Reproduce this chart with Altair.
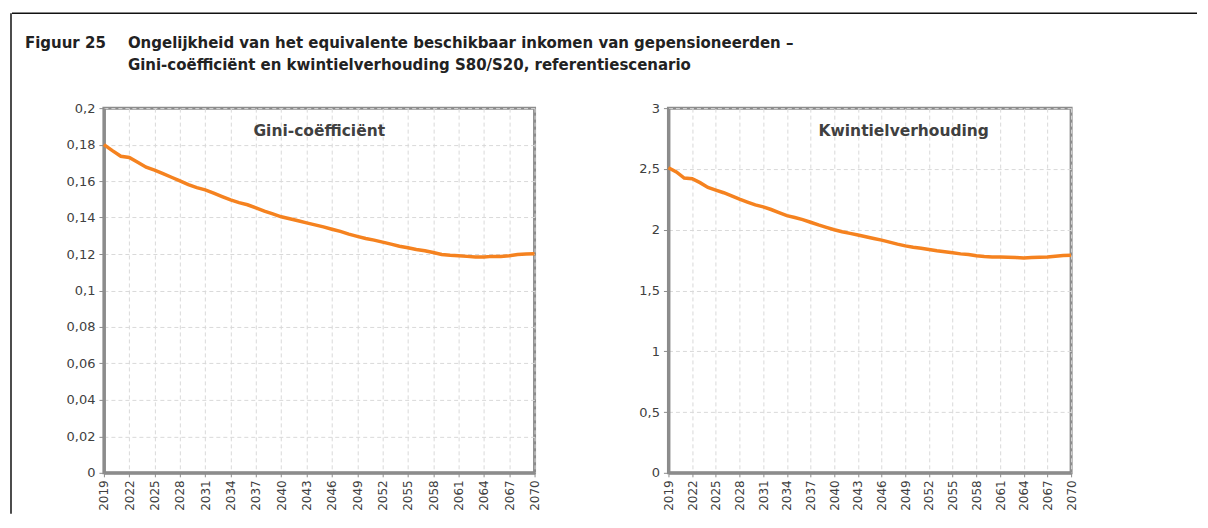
import altair as alt
import pandas as pd

years = list(range(2019, 2071))
gini = [0.180, 0.1767, 0.1736, 0.1729, 0.1703, 0.1676, 0.1660, 0.1641, 0.1621, 0.1601,
        0.1580, 0.1564, 0.1552, 0.1534, 0.1515, 0.1497, 0.1482, 0.1470, 0.1453, 0.1435,
        0.1420, 0.1404, 0.1393, 0.1382, 0.1371, 0.1360, 0.1349, 0.1336, 0.1324, 0.1309,
        0.1297, 0.1285, 0.1276, 0.1265, 0.1254, 0.1243, 0.1234, 0.1225, 0.1218, 0.1208,
        0.1197, 0.1193, 0.1191, 0.1187, 0.1184, 0.1184, 0.1187, 0.1186, 0.1190, 0.1197,
        0.1200, 0.1202]
kwintiel = [2.51, 2.475, 2.425, 2.42, 2.387, 2.348, 2.326, 2.304, 2.279, 2.251,
            2.227, 2.204, 2.188, 2.166, 2.141, 2.116, 2.100, 2.083, 2.061, 2.039,
            2.019, 2.000, 1.983, 1.970, 1.956, 1.942, 1.928, 1.914, 1.898, 1.881,
            1.867, 1.856, 1.848, 1.837, 1.826, 1.818, 1.810, 1.801, 1.796, 1.785,
            1.779, 1.776, 1.776, 1.773, 1.771, 1.768, 1.771, 1.773, 1.776, 1.782,
            1.787, 1.790]

x_ticks = list(range(2019, 2071, 3))
gini_ticks = [0, 0.02, 0.04, 0.06, 0.08, 0.1, 0.12, 0.14, 0.16, 0.18, 0.2]
kw_ticks = [0, 0.5, 1, 1.5, 2, 2.5, 3]

panel_titles = ["Gini-coëfficiënt", "Kwintielverhouding"]
fig_label = ["Figuur 25"]
title_line1 = ["Ongelijkheid van het equivalente beschikbaar inkomen van gepensioneerden –"]
title_line2 = ["Gini-coëfficiënt en kwintielverhouding S80/S20, referentiescenario"]

FONT = "DejaVu Sans"
ORANGE = "#f5821f"
GRAY = "#8c8c8c"
W_LEFT, W_RIGHT, H = 431, 403, 365


def panel(values, ticks, dom_max, fmt, ptitle, width, tdx):
    df = pd.DataFrame({"year": years, "v": values})
    xenc = alt.X("year:Q", scale=alt.Scale(domain=[2019, 2070], nice=False),
                 axis=alt.Axis(values=x_ticks, title=None, labelAngle=-90, format="d",
                               labelAlign="right", labelBaseline="middle",
                               labelPadding=3, tickSize=4))
    yenc = alt.Y("v:Q", scale=alt.Scale(domain=[0, dom_max], nice=False),
                 axis=alt.Axis(values=ticks, title=None, tickSize=5, labelPadding=4,
                               labelExpr=f"replace(format(datum.value, '{fmt}'), '.', ',')"))
    line = alt.Chart(df).mark_line(color=ORANGE, strokeWidth=3.5).encode(x=xenc, y=yenc)
    tdf = pd.DataFrame({"t": [ptitle]})
    txt = alt.Chart(tdf).mark_text(fontSize=15.5, fontWeight="bold", color="#404040",
                                   font=FONT).encode(
        text="t:N", x=alt.value(width / 2 + tdx), y=alt.value(23))
    return [line, txt]


def head_text(lines, xpos, ypos):
    return alt.Chart(pd.DataFrame({"t": lines})).mark_text(
        fontSize=15, fontWeight="bold", color="#222222", font=FONT, align="left",
        baseline="alphabetic").encode(text="t:N", x=alt.value(xpos), y=alt.value(ypos))


fig_txt = head_text(fig_label, -79, -60)
head1 = head_text(title_line1, 24, -60)
head2 = head_text(title_line2, 24, -38)

frame_df = pd.DataFrame({"k": ["frame"]})
top_rule = alt.Chart(frame_df).mark_rule(color="#111111", strokeWidth=1.5).encode(
    x=alt.value(-92), x2=alt.value(1094), y=alt.value(-95))
left_rule = alt.Chart(frame_df).mark_rule(color="#111111", strokeWidth=1.5).encode(
    x=alt.value(-93), y=alt.value(-95), y2=alt.value(406))

lp = panel(gini, gini_ticks, 0.2, ".2~f", panel_titles[0], W_LEFT, 0)
rp = panel(kwintiel, kw_ticks, 3, ".1~f", panel_titles[1], W_RIGHT, 34)

left = alt.layer(*lp, fig_txt, head1, head2, top_rule, left_rule).properties(
    width=W_LEFT, height=H)
right = alt.layer(*rp).properties(width=W_RIGHT, height=H)

chart = alt.hconcat(left, right, spacing=134, bounds="flush").properties(
    padding={"left": 0, "top": 2, "right": 0, "bottom": 0},
).configure_view(stroke=GRAY, strokeWidth=3).configure_axis(
    domainColor=GRAY, domainWidth=3, tickColor=GRAY, gridColor="#d9d9d9",
    gridDash=[4, 3], labelFont=FONT, labelFontSize=13, labelColor="#404040",
).configure_axisX(labelFontSize=12)

chart.save("out.html", embed_options={"renderer": "svg", "actions": False})
